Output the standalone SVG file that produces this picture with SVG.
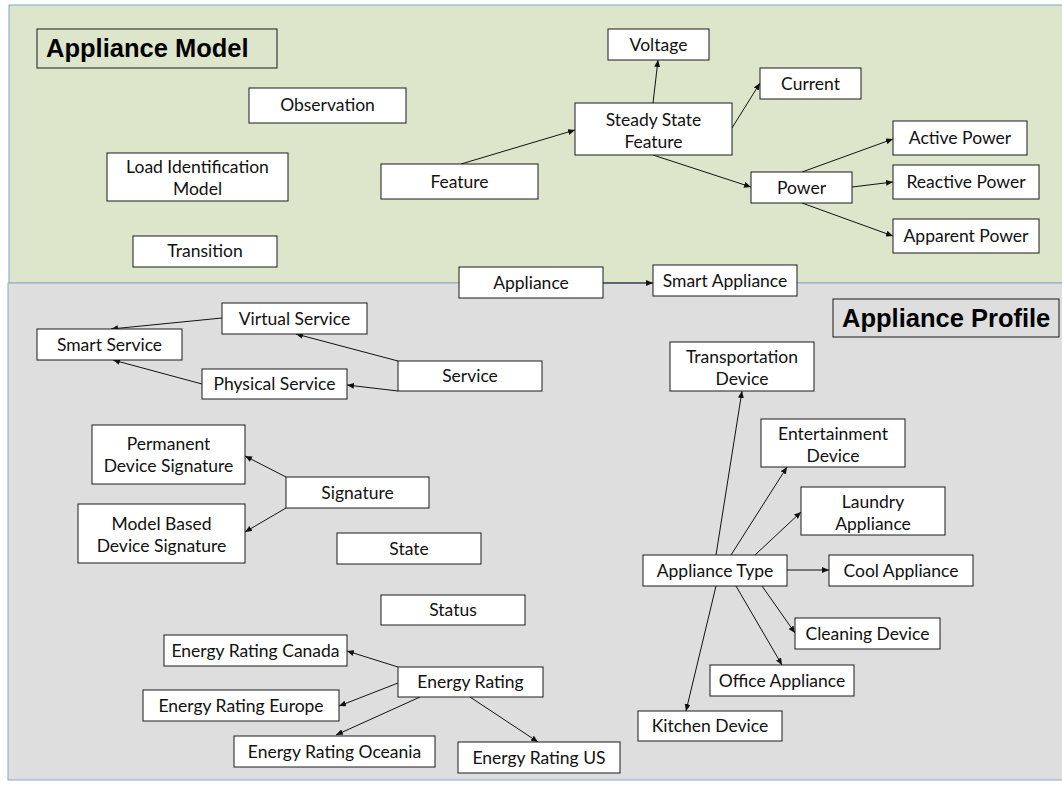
<svg xmlns="http://www.w3.org/2000/svg" width="1062" height="786" viewBox="0 0 1062 786">
  <style>
    .box { fill: #ffffff; stroke: #1a1a1a; stroke-width: 1; }
    .lbl { font-family: Lato, "Liberation Sans", sans-serif; font-size: 17.5px; fill: #111111; text-anchor: middle; }
    .ttl { font-family: "Liberation Sans", Arial, sans-serif; font-size: 25.5px; font-weight: bold; fill: #000000; }
    .ttlbox { fill: none; stroke: #1a1a1a; stroke-width: 1; }
    .edge { stroke: #111111; stroke-width: 1; fill: none; marker-end: url(#tip); }
  </style>
  <defs>
    <marker id="tip" markerUnits="userSpaceOnUse" markerWidth="8" markerHeight="6" refX="7" refY="3" orient="auto">
      <path d="M0,0 L7,3 L0,6 Z" fill="#111111"/>
    </marker>
  </defs>

  <!-- background panels -->
  <rect x="9" y="5" width="1060" height="278" fill="#dde6ca" stroke="#7fa3cf" stroke-width="1"/>
  <rect x="8" y="283" width="1060" height="497" fill="#dedede" stroke="#8fa7c6" stroke-width="1"/>

  <!-- connectors -->
  <g id="connectors">
    <line class="edge" x1="461" y1="164" x2="575" y2="130"/>
    <line class="edge" x1="653" y1="103" x2="658" y2="60"/>
    <line class="edge" x1="732" y1="128" x2="760" y2="83"/>
    <line class="edge" x1="653" y1="155" x2="751" y2="187"/>
    <line class="edge" x1="802" y1="172" x2="893" y2="139"/>
    <line class="edge" x1="852" y1="187" x2="893" y2="182"/>
    <line class="edge" x1="802" y1="203" x2="893" y2="236"/>
    <line class="edge" x1="603" y1="283" x2="653" y2="283"/>

    <line class="edge" x1="222" y1="318" x2="111" y2="329"/>
    <line class="edge" x1="202" y1="384" x2="113" y2="360"/>
    <line class="edge" x1="398" y1="361" x2="296" y2="334"/>
    <line class="edge" x1="398" y1="391" x2="347" y2="385"/>
    <line class="edge" x1="286" y1="477" x2="245" y2="456"/>
    <line class="edge" x1="286" y1="508" x2="245" y2="532"/>

    <line class="edge" x1="398" y1="667" x2="347" y2="651"/>
    <line class="edge" x1="398" y1="683" x2="339" y2="706"/>
    <line class="edge" x1="420" y1="697" x2="336" y2="735"/>
    <line class="edge" x1="470" y1="697" x2="538" y2="742"/>

    <line class="edge" x1="716" y1="555" x2="742" y2="391"/>
    <line class="edge" x1="731" y1="555" x2="787" y2="467"/>
    <line class="edge" x1="755" y1="555" x2="801" y2="512"/>
    <line class="edge" x1="787" y1="570" x2="829" y2="570"/>
    <line class="edge" x1="762" y1="586" x2="795" y2="633"/>
    <line class="edge" x1="736" y1="586" x2="782" y2="665"/>
    <line class="edge" x1="716" y1="586" x2="686" y2="711"/>
  </g>

  <!-- section titles -->
  <g id="title-model">
    <rect class="ttlbox" x="37" y="29" width="240" height="39"/>
    <text class="ttl" x="46" y="57">Appliance Model</text>
  </g>
  <g id="title-profile">
    <rect class="ttlbox" x="833" y="299" width="226" height="38"/>
    <text class="ttl" x="842" y="327">Appliance Profile</text>
  </g>

  <!-- appliance model nodes -->
  <g id="observation"><rect class="box" x="249" y="88" width="157" height="35"/><text class="lbl" x="327.5" y="111">Observation</text></g>
  <g id="load-identification-model"><rect class="box" x="107" y="153" width="181" height="48"/><text class="lbl" x="197.5" y="173">Load Identification</text><text class="lbl" x="197.5" y="195">Model</text></g>
  <g id="transition"><rect class="box" x="133" y="236" width="144" height="31"/><text class="lbl" x="205" y="257">Transition</text></g>
  <g id="feature"><rect class="box" x="381" y="164" width="157" height="35"/><text class="lbl" x="459.5" y="188">Feature</text></g>
  <g id="voltage"><rect class="box" x="608" y="29" width="101" height="31"/><text class="lbl" x="658.5" y="51">Voltage</text></g>
  <g id="steady-state-feature"><rect class="box" x="575" y="103" width="157" height="52"/><text class="lbl" x="653.5" y="126">Steady State</text><text class="lbl" x="653.5" y="148">Feature</text></g>
  <g id="current"><rect class="box" x="760" y="68" width="101" height="31"/><text class="lbl" x="810.5" y="90">Current</text></g>
  <g id="power"><rect class="box" x="751" y="172" width="101" height="31"/><text class="lbl" x="801.5" y="194">Power</text></g>
  <g id="active-power"><rect class="box" x="893" y="121" width="134" height="34"/><text class="lbl" x="960" y="144">Active Power</text></g>
  <g id="reactive-power"><rect class="box" x="893" y="165" width="146" height="34"/><text class="lbl" x="966" y="188">Reactive Power</text></g>
  <g id="apparent-power"><rect class="box" x="893" y="219" width="146" height="34"/><text class="lbl" x="966" y="242">Apparent Power</text></g>
  <g id="appliance"><rect class="box" x="459" y="267" width="144" height="31"/><text class="lbl" x="531" y="289">Appliance</text></g>
  <g id="smart-appliance"><rect class="box" x="653" y="265" width="144" height="31"/><text class="lbl" x="725" y="287">Smart Appliance</text></g>

  <!-- appliance profile nodes -->
  <g id="virtual-service"><rect class="box" x="222" y="303" width="145" height="31"/><text class="lbl" x="294.5" y="325">Virtual Service</text></g>
  <g id="smart-service"><rect class="box" x="37" y="329" width="145" height="31"/><text class="lbl" x="109.5" y="351">Smart Service</text></g>
  <g id="physical-service"><rect class="box" x="202" y="369" width="145" height="30"/><text class="lbl" x="274.5" y="390">Physical Service</text></g>
  <g id="service"><rect class="box" x="398" y="361" width="144" height="30"/><text class="lbl" x="470" y="382">Service</text></g>
  <g id="permanent-device-signature"><rect class="box" x="92" y="425" width="153" height="59"/><text class="lbl" x="168.5" y="450">Permanent</text><text class="lbl" x="168.5" y="472">Device Signature</text></g>
  <g id="signature"><rect class="box" x="286" y="477" width="143" height="31"/><text class="lbl" x="357.5" y="499">Signature</text></g>
  <g id="model-based-device-signature"><rect class="box" x="78" y="504" width="167" height="59"/><text class="lbl" x="161.5" y="530">Model Based</text><text class="lbl" x="161.5" y="552">Device Signature</text></g>
  <g id="state"><rect class="box" x="337" y="533" width="144" height="31"/><text class="lbl" x="409" y="555">State</text></g>
  <g id="status"><rect class="box" x="381" y="595" width="144" height="30"/><text class="lbl" x="453" y="616">Status</text></g>
  <g id="energy-rating-canada"><rect class="box" x="164" y="635" width="183" height="31"/><text class="lbl" x="255.5" y="657">Energy Rating Canada</text></g>
  <g id="energy-rating"><rect class="box" x="398" y="667" width="145" height="30"/><text class="lbl" x="470.5" y="688">Energy Rating</text></g>
  <g id="energy-rating-europe"><rect class="box" x="143" y="690" width="196" height="31"/><text class="lbl" x="241" y="712">Energy Rating Europe</text></g>
  <g id="energy-rating-oceania"><rect class="box" x="234" y="736" width="201" height="31"/><text class="lbl" x="334.5" y="758">Energy Rating Oceania</text></g>
  <g id="energy-rating-us"><rect class="box" x="458" y="742" width="162" height="31"/><text class="lbl" x="539" y="764">Energy Rating US</text></g>
  <g id="transportation-device"><rect class="box" x="670" y="342" width="144" height="49"/><text class="lbl" x="742" y="363">Transportation</text><text class="lbl" x="742" y="385">Device</text></g>
  <g id="entertainment-device"><rect class="box" x="761" y="419" width="144" height="48"/><text class="lbl" x="833" y="440">Entertainment</text><text class="lbl" x="833" y="462">Device</text></g>
  <g id="laundry-appliance"><rect class="box" x="801" y="487" width="144" height="48"/><text class="lbl" x="873" y="508">Laundry</text><text class="lbl" x="873" y="530">Appliance</text></g>
  <g id="appliance-type"><rect class="box" x="643" y="555" width="144" height="31"/><text class="lbl" x="715" y="577">Appliance Type</text></g>
  <g id="cool-appliance"><rect class="box" x="829" y="555" width="144" height="31"/><text class="lbl" x="901" y="577">Cool Appliance</text></g>
  <g id="cleaning-device"><rect class="box" x="795" y="618" width="145" height="31"/><text class="lbl" x="867.5" y="640">Cleaning Device</text></g>
  <g id="office-appliance"><rect class="box" x="710" y="665" width="144" height="31"/><text class="lbl" x="782" y="687">Office Appliance</text></g>
  <g id="kitchen-device"><rect class="box" x="638" y="711" width="144" height="30"/><text class="lbl" x="710" y="732">Kitchen Device</text></g>
</svg>
